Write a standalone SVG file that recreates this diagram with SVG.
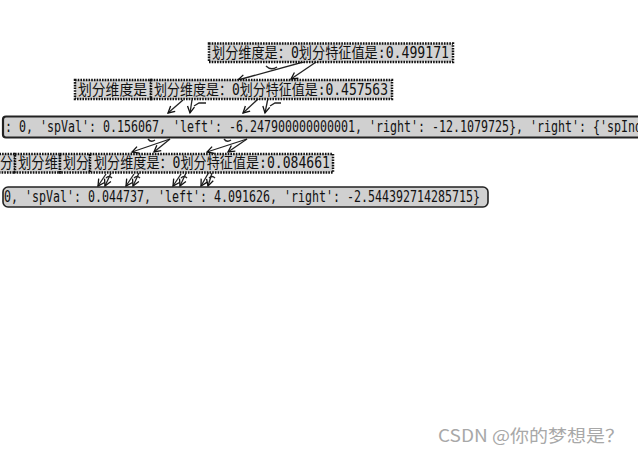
<svg xmlns="http://www.w3.org/2000/svg" width="638" height="456" viewBox="0 0 638 456">
<style>
.saw{fill:#d3d3d3;stroke:#111;stroke-width:2.5;stroke-dasharray:1.6 1.1}
.leaf{fill:#d0d0d0;stroke:#222;stroke-width:2.2}
.t{font-family:"DejaVu Sans Mono","Noto Sans CJK SC",monospace;font-size:15px;fill:#111}
.c{fill:none;stroke:#222;stroke-width:1.3}
.wm{font-family:"Noto Sans CJK SC","Liberation Sans",sans-serif;font-size:17px;fill:#a8a8a8}
</style>
<defs>
<marker id="ah" viewBox="-8 -5 10 10" refX="0" refY="0" markerWidth="10" markerHeight="10" markerUnits="userSpaceOnUse" orient="auto">
<path d="M-6.5,-3.5 L0,0 L-6.5,3.5" fill="none" stroke="#111" stroke-width="1.3"/>
</marker>
</defs>
<rect width="638" height="456" fill="#fff"/>
<g id="connectors">
<path class="c" d="M325,56 L238,80" marker-end="url(#ah)"/>
<path class="c" d="M325,56 L291,79" marker-end="url(#ah)"/>
<path class="c" d="M266,66 q5,5 11,1"/>
<path class="c" d="M183,100 L168,113" marker-end="url(#ah)"/>
<path class="c" d="M192,100 L190,113" marker-end="url(#ah)"/>
<path class="c" d="M194,106 L199,103 L206,103"/>
<path class="c" d="M272,86 L243,113" marker-end="url(#ah)"/>
<path class="c" d="M268,98 L265,113" marker-end="url(#ah)"/>
<path class="c" d="M270,106 L275,103 L281,103"/>
<path class="c" d="M170,139 L132,152" marker-end="url(#ah)"/>
<path class="c" d="M170,139 L154,152" marker-end="url(#ah)"/>
<path class="c" d="M148,139 q3,4 7,1"/>
<path class="c" d="M247,139 L207,152" marker-end="url(#ah)"/>
<path class="c" d="M247,139 L228,152" marker-end="url(#ah)"/>
<path class="c" d="M224,139 q3,4 7,1"/>
<path class="c" d="M106,174 L98,186" marker-end="url(#ah)"/>
<path class="c" d="M111,173 L105,186" marker-end="url(#ah)"/>
<path class="c" d="M106,178 q3,-3 6,0"/>
<path class="c" d="M134,174 L126,186" marker-end="url(#ah)"/>
<path class="c" d="M139,173 L133,186" marker-end="url(#ah)"/>
<path class="c" d="M134,178 q3,-3 6,0"/>
<path class="c" d="M181,174 L173,186" marker-end="url(#ah)"/>
<path class="c" d="M186,173 L180,186" marker-end="url(#ah)"/>
<path class="c" d="M181,178 q3,-3 6,0"/>
<path class="c" d="M209,172 L201,186" marker-end="url(#ah)"/>
<path class="c" d="M212,173 L208,186" marker-end="url(#ah)"/>
<path class="c" d="M209,178 q3,-3 6,0"/>
</g>
<g id="n_root">
<rect class="saw" x="209" y="43.5" width="244" height="18.5"/>
<text class="t" x="212" y="57.5" textLength="237" lengthAdjust="spacingAndGlyphs">划分维度是：0划分特征值是:0.499171</text>
</g>
<g id="n_l2a">
<rect class="saw" x="75" y="80" width="76" height="19"/>
<text class="t" x="78" y="94.5" textLength="69" lengthAdjust="spacingAndGlyphs">划分维度是</text>
</g>
<g id="n_l2b">
<rect class="saw" x="151" y="80" width="241" height="19"/>
<text class="t" x="154" y="94.5" textLength="234" lengthAdjust="spacingAndGlyphs">划分维度是：0划分特征值是:0.457563</text>
</g>
<g id="n_leaf1">
<rect class="leaf" x="3" y="116.5" width="700" height="21" rx="3"/>
<text class="t" x="5" y="132" textLength="637" lengthAdjust="spacingAndGlyphs">: 0, 'spVal': 0.156067, 'left': -6.247900000000001, 'right': -12.1079725}, 'right': {'spInd</text>
</g>
<g id="n_l3a">
<rect class="saw" x="-6" y="154" width="21" height="18.5"/>
<text class="t" x="0" y="168" textLength="13" lengthAdjust="spacingAndGlyphs">分</text>
</g>
<g id="n_l3b">
<rect class="saw" x="15" y="154" width="45" height="18.5"/>
<text class="t" x="18" y="168" textLength="40" lengthAdjust="spacingAndGlyphs">划分维</text>
</g>
<g id="n_l3c">
<rect class="saw" x="60" y="154" width="30" height="18.5"/>
<text class="t" x="63" y="168" textLength="26" lengthAdjust="spacingAndGlyphs">划分</text>
</g>
<g id="n_l3d">
<rect class="saw" x="90" y="154" width="243" height="18.5"/>
<text class="t" x="94" y="168" textLength="236" lengthAdjust="spacingAndGlyphs">划分维度是：0划分特征值是:0.084661</text>
</g>
<g id="n_leaf2">
<rect class="leaf" x="3" y="187" width="485" height="20" rx="5" style="stroke-width:1.6"/>
<text class="t" x="4" y="201.5" textLength="476" lengthAdjust="spacingAndGlyphs">0, 'spVal': 0.044737, 'left': 4.091626, 'right': -2.544392714285715}</text>
</g>
<text class="wm" x="438" y="442" textLength="186" lengthAdjust="spacingAndGlyphs">CSDN @你的梦想是？</text>
</svg>
